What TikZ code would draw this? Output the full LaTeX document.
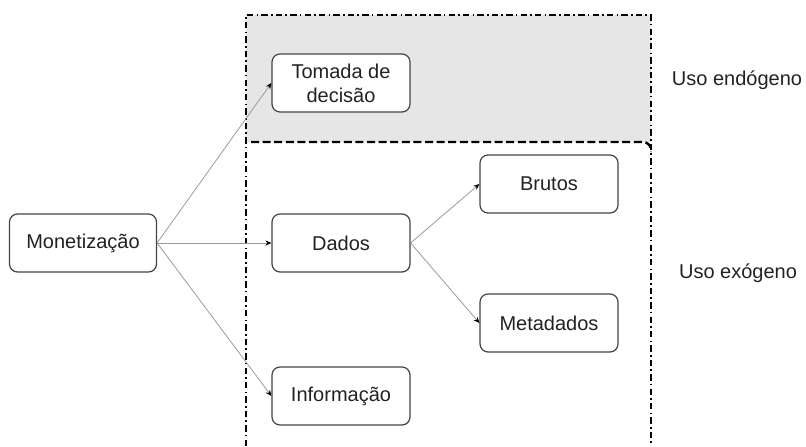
\documentclass[tikz,border=0pt]{standalone}
\usepackage{fontspec}
\setmainfont{Liberation Sans}
\usetikzlibrary{arrows.meta}
\definecolor{zonegray}{HTML}{E6E6E6}
\definecolor{boxline}{HTML}{444444}
\definecolor{edgegray}{HTML}{9A9A9A}
\definecolor{txt}{HTML}{222222}
\tikzset{bx/.style = {draw=boxline, line width=0.6pt, rounded corners=4pt, fill=white,
                      minimum width=69pt, minimum height=29pt, inner sep=2pt, align=center,
                      text=txt, font=\fontsize{10}{12}\selectfont},
         lb/.style = {text=txt, font=\fontsize{10}{12}\selectfont},
         dd/.style = {line width=1.2pt, dash pattern=on 3.2pt off 1.6pt on 0.8pt off 1.6pt},
         ds/.style = {line width=1.2pt, dash pattern=on 4pt off 1.8pt},
         ed/.style = {draw=edgegray, line width=0.4pt, -{Stealth[black, length=3pt, width=2.6pt]}}}

\begin{document}
\begin{tikzpicture}[x=0.5pt, y=0.5pt]
    \useasboundingbox (0,0) rectangle (806,446);
    % zones
    \fill[zonegray] (246,304) rectangle (651,431);
    \draw[dd] (246,0) -- (246,431) -- (651,431) -- (651,0);
    \draw[ds, rounded corners=4pt] (251,304) -| (651,294);
    % nodes
    \node[bx, minimum width=73.5pt] (m) at (83,203) {Monetização};
    \node[bx] (t) at (341,363) {Tomada de\\decisão};
    \node[bx] (d) at (341,203) {Dados};
    \node[bx] (i) at (341,50) {Informação};
    \node[bx] (b) at (549,262) {Brutos};
    \node[bx] (x) at (549,123) {Metadados};
    \node[lb] (en) at (737,366) {Uso endógeno};
    \node[lb] (ex) at (738,173) {Uso exógeno};
    % edges
    \draw[ed] (m.east) -- (t.west);
    \draw[ed] (m.east) -- (d.west);
    \draw[ed] (m.east) -- (i.west);
    \draw[ed] (d.east) -- (b.west);
    \draw[ed] (d.east) -- (x.west);
\end{tikzpicture}
\end{document}
